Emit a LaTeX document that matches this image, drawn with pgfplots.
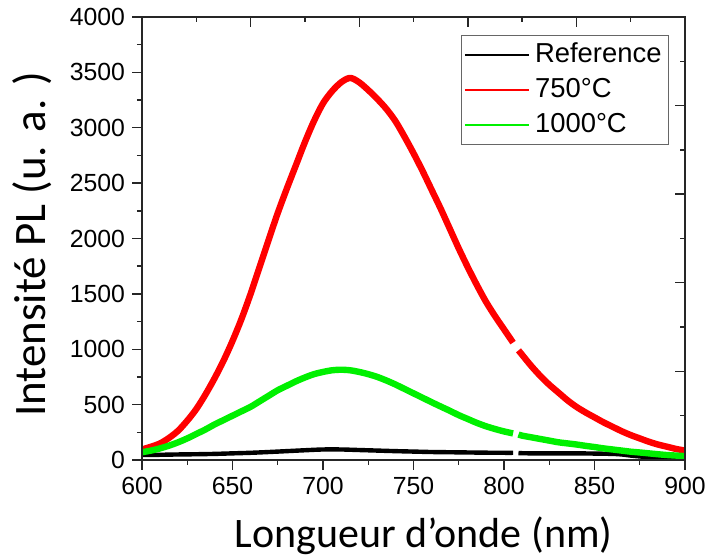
\documentclass[border=0pt]{standalone}
\usepackage{pgfplots}
\pgfplotsset{compat=1.18}
\usepackage{fontspec}
\setmainfont{Liberation Sans}
\newfontfamily\calib{Carlito}
\definecolor{myred}{RGB}{255,0,0}
\definecolor{mygreen}{RGB}{0,240,0}
\begin{document}
\begin{tikzpicture}
\pgfplotsset{
  base/.style={
    width=271.5pt, height=221.5pt, scale only axis,
    xmin=600, xmax=900, ymin=0, ymax=4000,
    axis line style={line width=0.7pt, black!85},
    every tick/.style={line width=0.7pt, black!85},
    major tick length=5pt, minor tick length=2.5pt,
  }
}
\begin{axis}[base, name=ax,
  unbounded coords=jump,
  xtick={600,650,...,900}, minor x tick num=1,
  ytick={0,500,...,4000}, minor y tick num=1,
  xtick pos=left, ytick pos=left, tick align=outside,
  /pgf/number format/assume math mode=true,
  /pgf/number format/1000 sep={},
  tick label style={font=\fontsize{12.4}{14}\selectfont},
  xlabel={\calib Longueur d’onde (nm)},
  ylabel={\calib Intensité PL (u. a. )},
  xlabel style={font=\fontsize{21}{24}\selectfont, at={(axis description cs:0.5184,-0.1986)}, anchor=base},
  ylabel style={font=\fontsize{22.5}{25}\selectfont, at={(axis description cs:-0.1786,0.4865)}, anchor=base},
  legend cell align=left,
  legend style={at={(axis description cs:1,1)}, anchor=north east, xshift=-8pt, yshift=-9pt,
    draw=black!60, line width=0.5pt, font=\fontsize{13.7}{16}\selectfont,
    inner sep=1pt, nodes={inner sep=2.5pt, text height=10pt, text depth=2.5pt}},
  legend image code/.code={\draw[#1, line width=1.2pt] (0pt,0pt) -- (32pt,0pt);},
]
\addplot[black, line width=2.2pt, line join=round, smooth] table {
x y
600 45
610 47
620 50
630 52
640 55
650 60
660 65
670 72
680 80
690 88
700 95
710 95
720 90
730 85
740 80
750 76
760 72
770 70
780 68
790 66
800 65
805 65
806.5 nan
808 62
815 60
820 60
830 60
840 60
850 58
860 55
865 50
870 40
875 32
880 25
885 20
890 15
895 12
900 10
};
\addlegendentry{Reference}
\addplot[myred, line width=3.2pt, line join=round, smooth] table {
x y
600 95
605 120
610 150
615 200
620 265
625 355
630 460
635 590
640 735
645 895
650 1075
655 1275
660 1500
665 1745
670 1990
675 2230
680 2450
685 2660
690 2870
695 3060
700 3220
705 3330
710 3410
715 3450
720 3410
725 3340
730 3260
735 3170
740 3060
745 2920
750 2770
755 2610
760 2440
765 2270
770 2090
775 1910
780 1740
785 1580
790 1430
795 1300
800 1180
805 1060
806.5 nan
808 990
810 950
815 850
820 760
825 680
830 610
835 540
840 480
845 430
850 385
855 340
860 300
865 260
870 225
875 195
880 165
885 140
890 120
895 100
900 85
};
\addlegendentry{750°C}
\addplot[mygreen, line width=3.2pt, line join=round, smooth] table {
x y
600 70
605 85
610 105
615 130
620 160
625 195
630 235
635 275
640 320
645 360
650 400
655 440
660 480
665 530
670 580
675 630
680 670
685 710
690 745
695 775
700 795
705 810
710 815
715 810
720 795
725 775
730 750
735 718
740 682
745 642
750 602
755 562
760 522
765 483
770 445
775 405
780 370
785 335
790 305
795 280
800 258
805 240
806.5 nan
808 230
810 220
815 205
820 190
825 175
830 160
835 150
840 140
845 128
850 117
855 105
860 95
865 85
870 75
875 68
880 60
885 52
890 45
895 40
900 35
};
\addlegendentry{1000°C}
\end{axis}
\begin{axis}[base,
  xtick={600,660,...,900}, minor x tick num=1,
  ytick={0,800,...,4000}, minor y tick num=1,
  xtick pos=right, ytick pos=right, tick align=inside,
  xticklabels={}, yticklabels={},
]
\end{axis}
\pgfresetboundingbox
\path[use as bounding box] ([xshift=-71pt,yshift=-50pt]ax.south west) rectangle ([xshift=10pt,yshift=8.5pt]ax.north east);
\end{tikzpicture}
\end{document}
